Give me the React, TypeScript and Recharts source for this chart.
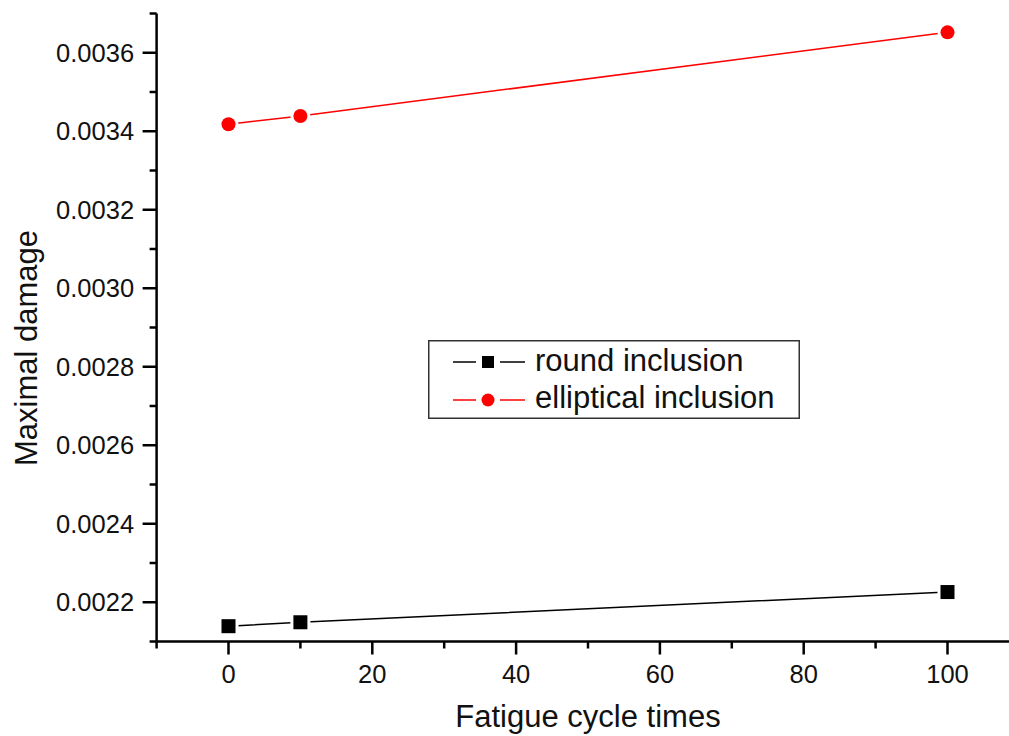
import React from "react";
import { LineChart, Line, XAxis, YAxis, Legend } from "recharts";

// fatigue cycles vs maximal damage
const cycles = [0, 10, 100];
const roundInclusion = [0.002139, 0.002149, 0.002226];
const ellipticalInclusion = [0.003418, 0.003439, 0.003652];

const xTicks = [-10, 0, 10, 20, 30, 40, 50, 60, 70, 80, 90, 100, 110];
const yTicks = [
  0.0021, 0.0022, 0.0023, 0.0024, 0.0025, 0.0026, 0.0027, 0.0028, 0.0029,
  0.003, 0.0031, 0.0032, 0.0033, 0.0034, 0.0035, 0.0036, 0.0037,
];

const FONT = '"Liberation Sans", Arial, sans-serif';

const data = cycles.map((c, i) => ({
  cycle: c,
  round: roundInclusion[i],
  elliptical: ellipticalInclusion[i],
}));

// eslint-disable-next-line @typescript-eslint/no-explicit-any
function XTick({ x, y, payload }: any) {
  const v = payload.value as number;
  const major = v % 20 === 0;
  const showLabel = major && v >= 0 && v <= 100;
  return (
    <g>
      <line x1={x} x2={x} y1={y} y2={y + (major ? 13 : 7)} stroke="#000" strokeWidth={2.5} />
      {showLabel && (
        <text x={x} y={y + 41.5} textAnchor="middle" fontSize={25.5} fontFamily={FONT} fill="#111">
          {v}
        </text>
      )}
    </g>
  );
}

// eslint-disable-next-line @typescript-eslint/no-explicit-any
function YTick({ x, y, payload }: any) {
  const v = payload.value as number;
  const major = Math.round(v * 10000) % 2 === 0;
  return (
    <g>
      <line x1={x - (major ? 14 : 7)} x2={x} y1={y} y2={y} stroke="#000" strokeWidth={2.5} />
      {major && (
        <text x={x - 22.5} y={y} dy="0.36em" textAnchor="end" fontSize={25.5} fontFamily={FONT} fill="#111">
          {v.toFixed(4)}
        </text>
      )}
    </g>
  );
}

// eslint-disable-next-line @typescript-eslint/no-explicit-any
function SquareDot({ cx, cy }: any) {
  if (cx == null || cy == null) return null;
  return (
    <g>
      <rect x={cx - 10} y={cy - 10} width={20} height={20} fill="#fff" />
      <rect x={cx - 7} y={cy - 7} width={14} height={14} fill="#000" />
    </g>
  );
}

// eslint-disable-next-line @typescript-eslint/no-explicit-any
function CircleDot({ cx, cy }: any) {
  if (cx == null || cy == null) return null;
  return (
    <g>
      <circle cx={cx} cy={cy} r={10} fill="#fff" />
      <circle cx={cx} cy={cy} r={7} fill="#ff0000" />
    </g>
  );
}

function BoxLegend() {
  return (
    <svg width={372} height={79} style={{ display: "block" }}>
      <rect x={0.75} y={0.75} width={370.5} height={77.5} fill="#fff" stroke="#333" strokeWidth={1.5} />
      <line x1={25} x2={48} y1={22} y2={22} stroke="#000" strokeWidth={1.5} />
      <line x1={72} x2={97} y1={22} y2={22} stroke="#000" strokeWidth={1.5} />
      <rect x={54} y={16} width={12} height={12} fill="#000" />
      <text x={107} y={31} fontSize={31} fontFamily={FONT} fill="#111">round inclusion</text>
      <line x1={25} x2={48} y1={60} y2={60} stroke="#ff0000" strokeWidth={1.5} />
      <line x1={72} x2={97} y1={60} y2={60} stroke="#ff0000" strokeWidth={1.5} />
      <circle cx={60} cy={60} r={6.5} fill="#ff0000" />
      <text x={107} y={68} fontSize={31} fontFamily={FONT} fill="#111">elliptical inclusion</text>
    </svg>
  );
}

export default function App() {
  return (
    <div style={{ width: 1009, height: 736, overflow: "hidden", background: "#fff" }}>
      <style>{"body{margin:0;overflow:hidden}"}</style>
      <LineChart
        width={1030}
        height={736}
        data={data}
        margin={{ top: 13.5, right: 10.6, bottom: 0, left: 0 }}
      >
        <XAxis
          dataKey="cycle"
          type="number"
          domain={[-10, 110]}
          ticks={xTicks}
          interval={0}
          tickSize={0}
          tickMargin={0}
          tickLine={false}
          tick={<XTick />}
          height={94.5}
          axisLine={{ stroke: "#000", strokeWidth: 2.5 }}
          label={{
            content: () => (
              <text x={588} y={727} textAnchor="middle" fontSize={31} fontFamily={FONT} fill="#111">
                Fatigue cycle times
              </text>
            ),
          }}
        />
        <XAxis
          xAxisId="top"
          orientation="top"
          dataKey="cycle"
          type="number"
          domain={[-10, 110]}
          ticks={xTicks}
          interval={0}
          height={0}
          mirror
          tick={false}
          tickSize={3}
          tickLine={{ stroke: "#000", strokeWidth: 1.5 }}
          axisLine={{ stroke: "#000", strokeWidth: 2.5 }}
        />
        <YAxis
          type="number"
          domain={[0.0021, 0.0037]}
          ticks={yTicks}
          interval={0}
          width={156.6}
          tickSize={0}
          tickMargin={0}
          tickLine={false}
          tick={<YTick />}
          axisLine={{ stroke: "#000", strokeWidth: 2.5 }}
          label={{
            content: () => (
              <text
                x={37}
                y={348}
                textAnchor="middle"
                fontSize={31}
                fontFamily={FONT}
                fill="#111"
                transform="rotate(-90, 37, 348)"
              >
                Maximal damage
              </text>
            ),
          }}
        />
        <Legend
          layout="horizontal"
          align="center"
          verticalAlign="middle"
          content={<BoxLegend />}
          wrapperStyle={{ position: "absolute", left: 428, top: 340, width: 372, height: 79 }}
        />
        <Line
          dataKey="round"
          stroke="#000"
          strokeWidth={1.5}
          dot={<SquareDot />}
          activeDot={false}
          isAnimationActive={false}
        />
        <Line
          dataKey="elliptical"
          stroke="#ff0000"
          strokeWidth={1.5}
          dot={<CircleDot />}
          activeDot={false}
          isAnimationActive={false}
        />
      </LineChart>
    </div>
  );
}
